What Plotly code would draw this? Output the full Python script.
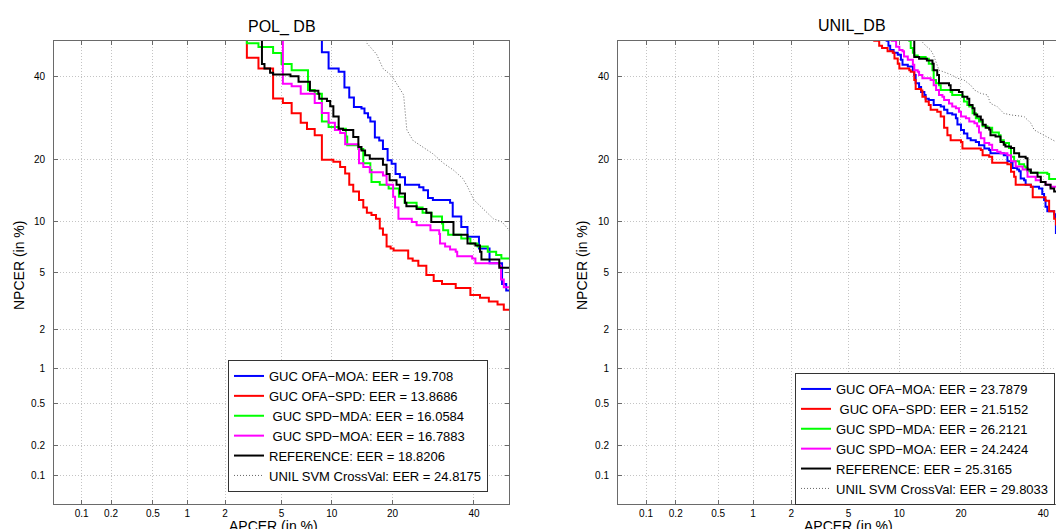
import plotly.graph_objects as go
from statistics import NormalDist

# ---------------- data (values in %) ----------------
TICK_VALUES = [0.1, 0.2, 0.5, 1, 2, 5, 10, 20, 40]
TICK_LABELS = ["0.1", "0.2", "0.5", "1", "2", "5", "10", "20", "40"]

# POL_DB
pol_ofa_moa_x = [8.8, 8.8, 9.6, 10.9, 11.7, 12.4, 13.1, 14.3, 14.8, 15.4, 15.8, 16.6, 17.4, 18.1, 19.0, 19.8, 20.6, 21.5, 22.6, 25.8, 26.8, 27.9, 29.1, 33.5, 34.2, 36.5, 38.2, 41.4, 44.4, 48.0, 49.2, 50.5]
pol_ofa_moa_y = [55, 46.7, 42.2, 41.3, 37.0, 34.3, 31.9, 31.5, 30.3, 29.3, 28.3, 24.6, 23.9, 22.1, 19.8, 19.1, 17.2, 16.6, 15.3, 14.9, 14.4, 13.2, 12.9, 12.5, 10.6, 9.3, 8.2, 7.0, 5.7, 4.2, 3.8, 3.8]

pol_ofa_spd_x = [2.9, 2.9, 3.5, 4.4, 5.1, 5.8, 6.6, 7.2, 8.0, 8.8, 10.2, 11.1, 11.8, 12.4, 13.0, 13.9, 14.6, 15.2, 16.0, 16.8, 17.5, 18.1, 18.8, 19.6, 20.2, 23.3, 24.3, 25.6, 27.5, 29.3, 31.4, 35.0, 39.0, 41.7, 44.2, 46.7, 48.5, 50.5]
pol_ofa_spd_y = [55, 45.2, 42.2, 34.1, 32.9, 30.3, 28.0, 26.5, 25.1, 19.9, 19.5, 18.5, 17.3, 15.3, 14.2, 12.9, 11.8, 11.1, 10.8, 10.3, 9.1, 8.4, 7.2, 7.0, 6.8, 6.1, 5.9, 5.5, 4.8, 4.4, 4.2, 3.95, 3.55, 3.4, 3.2, 3.05, 2.8, 2.8]

pol_spd_mda_x = [2.9, 2.9, 3.5, 4.4, 5.0, 5.8, 7.3, 8.0, 8.8, 9.6, 10.9, 11.9, 12.1, 13.8, 14.6, 15.8, 16.0, 17.5, 19.2, 21.3, 22.5, 25.2, 26.6, 28.8, 31.4, 31.7, 33.0, 36.5, 39.0, 41.0, 43.9, 46.3, 47.8, 50.5]
pol_spd_mda_y = [55, 49.3, 48.2, 46.5, 43.4, 41.7, 36.3, 35.3, 28.3, 27.0, 26.6, 24.8, 22.9, 22.1, 19.2, 17.9, 15.8, 15.3, 14.7, 13.4, 12.5, 11.8, 11.1, 10.6, 9.7, 8.9, 8.4, 8.0, 7.5, 7.2, 6.7, 6.4, 6.1, 6.1]

pol_spd_moa_x = [5.1, 5.1, 5.8, 6.6, 8.0, 8.8, 9.6, 10.4, 11.1, 11.8, 13.8, 13.9, 14.6, 15.7, 18.1, 18.8, 20.1, 20.5, 21.2, 24.1, 25.2, 28.5, 30.7, 30.9, 32.2, 33.5, 35.0, 35.4, 39.5, 40.4, 47.2, 47.7, 48.5, 50.5]
pol_spd_moa_y = [55, 38.0, 37.3, 35.3, 32.9, 30.4, 28.0, 26.3, 25.6, 23.1, 22.5, 19.2, 18.5, 17.5, 16.9, 15.3, 13.4, 11.8, 10.3, 9.9, 9.5, 8.9, 8.5, 7.5, 7.2, 6.9, 6.7, 6.3, 6.1, 5.7, 5.5, 4.5, 4.0, 3.95]

pol_ref_x = [3.7, 3.7, 3.85, 4.2, 4.4, 5.7, 6.4, 7.5, 8.4, 8.5, 9.4, 9.8, 10.2, 10.9, 11.5, 13.0, 13.8, 14.3, 14.9, 15.7, 18.1, 18.8, 19.4, 20.8, 21.5, 22.6, 22.9, 25.2, 27.5, 28.7, 34.4, 38.2, 40.4, 41.7, 42.1, 47.2, 50.5]
pol_ref_y = [55, 43.4, 42.2, 41.0, 40.5, 40.0, 38.5, 36.1, 35.3, 34.0, 33.4, 32.1, 29.5, 26.6, 26.3, 24.7, 22.5, 21.8, 20.8, 20.1, 18.9, 17.2, 16.1, 15.3, 13.9, 12.5, 12.0, 11.6, 11.1, 9.9, 8.4, 7.5, 7.3, 6.7, 6.0, 5.35, 5.35]

pol_unil_x = [15.0, 15.2, 16.9, 18.1, 19.8, 21.2, 22.3, 22.6, 23.0, 24.4, 27.2, 29.1, 31.8, 34.4, 36.9, 38.2, 40.0, 42.6, 45.5, 48.0, 50.5]
pol_unil_y = [51, 49.3, 46.2, 42.2, 40.2, 37.2, 35.0, 31.1, 26.3, 23.9, 22.1, 21.1, 19.2, 17.9, 16.4, 15.0, 12.9, 11.6, 10.3, 9.9, 8.7]

# UNIL_DB
unil_ofa_moa_x = [8.5, 8.5, 8.7, 8.9, 9.3, 9.8, 10.2, 10.4, 11.1, 11.8, 12.0, 12.2, 12.7, 13.0, 13.5, 13.7, 14.2, 15.0, 16.2, 16.8, 17.4, 18.3, 19.0, 19.3, 20.0, 20.6, 21.3, 22.0, 23.1, 23.8, 25.0, 26.1, 26.4, 29.6, 30.5, 31.4, 31.8, 33.0, 33.5, 33.9, 34.8, 35.2, 36.6, 38.8, 39.7, 40.2, 40.6, 41.1, 43.0, 43.5, 50.5]
unil_ofa_moa_y = [55, 50, 48.6, 47.4, 46.6, 46.0, 44.6, 43.2, 42.7, 41.7, 40.4, 38.1, 37.1, 35.8, 35.0, 34.0, 33.7, 32.4, 32.0, 31.2, 30.3, 30.0, 29.1, 27.6, 26.3, 25.5, 24.4, 24.0, 23.6, 22.9, 22.2, 21.9, 21.2, 20.8, 19.6, 19.3, 18.3, 18.0, 17.7, 16.4, 16.1, 15.3, 15.0, 14.7, 13.8, 12.9, 11.9, 11.3, 10.9, 8.6, 8.6]

unil_ofa_spd_x = [7.2, 7.2, 7.7, 8.0, 8.6, 9.2, 9.4, 9.8, 10.0, 11.3, 11.5, 12.0, 12.2, 13.0, 13.2, 13.7, 14.2, 14.5, 15.6, 16.2, 16.8, 16.8, 17.4, 18.0, 20.0, 20.3, 24.2, 24.6, 26.1, 26.8, 30.5, 31.4, 32.2, 32.6, 36.6, 37.1, 40.6, 41.6, 43.0, 43.5, 50.5]
unil_ofa_spd_y = [55, 50, 48.6, 47.9, 47.0, 46.6, 45.0, 43.5, 42.2, 41.7, 41.3, 39.0, 36.6, 36.2, 34.5, 33.3, 32.4, 31.2, 30.7, 29.5, 28.3, 26.8, 25.1, 24.0, 23.6, 22.2, 21.9, 20.8, 20.5, 19.3, 19.0, 17.6, 16.7, 15.3, 15.0, 13.3, 12.8, 11.3, 10.3, 9.6, 9.6]

unil_spd_mda_x = [11.3, 11.3, 11.5, 11.8, 12.0, 12.5, 13.7, 14.2, 14.8, 15.0, 15.4, 15.9, 16.2, 18.0, 18.3, 20.3, 20.6, 21.3, 21.7, 22.4, 23.1, 23.8, 24.6, 25.7, 26.8, 28.4, 28.8, 29.6, 30.9, 31.4, 32.2, 33.5, 34.8, 35.2, 35.7, 36.6, 41.1, 41.6, 50.5]
unil_spd_mda_y = [55, 50, 47.9, 46.6, 45.8, 45.4, 44.9, 43.5, 41.7, 39.0, 38.1, 37.6, 36.3, 35.8, 35.0, 34.6, 33.3, 32.4, 32.0, 30.3, 29.1, 28.3, 27.2, 26.8, 25.7, 25.1, 24.0, 23.4, 22.3, 20.5, 19.6, 19.0, 18.6, 18.3, 17.7, 17.4, 17.2, 16.3, 16.3]

unil_spd_moa_x = [9.1, 9.1, 9.6, 10.0, 10.4, 10.6, 11.1, 11.8, 12.0, 12.5, 12.7, 13.2, 14.5, 15.0, 15.4, 15.9, 16.5, 16.8, 17.7, 18.3, 19.0, 19.6, 20.0, 21.0, 21.7, 22.8, 23.4, 23.8, 24.2, 25.0, 26.1, 26.8, 28.0, 28.8, 30.5, 31.4, 32.6, 34.4, 35.7, 37.9, 39.3, 40.6, 42.0, 44.1, 45.1, 50.5]
unil_spd_moa_y = [55, 50, 48.3, 47.4, 47.0, 45.5, 44.6, 43.2, 41.7, 41.3, 40.4, 39.5, 39.0, 37.6, 36.3, 35.0, 34.5, 33.7, 32.8, 32.0, 31.6, 30.7, 29.5, 29.1, 28.3, 27.9, 27.2, 25.7, 24.4, 23.4, 23.0, 21.9, 21.5, 21.2, 20.8, 19.6, 18.6, 18.0, 16.7, 16.1, 15.8, 15.3, 15.0, 14.7, 14.4, 14.4]

unil_ref_x = [12.0, 12.0, 12.7, 13.9, 14.8, 15.0, 15.6, 15.9, 17.7, 18.0, 19.6, 20.3, 21.3, 21.7, 22.4, 22.8, 23.4, 24.2, 24.6, 25.3, 26.1, 26.4, 27.6, 28.8, 29.6, 30.0, 31.4, 32.2, 33.5, 35.2, 35.7, 36.6, 38.4, 39.3, 40.6, 42.0, 43.0, 44.1, 45.3, 45.5, 50.5]
unil_ref_y = [55, 45.4, 44.9, 44.4, 43.5, 41.7, 40.4, 38.1, 37.6, 36.3, 35.8, 34.5, 34.0, 32.4, 31.6, 30.0, 29.5, 28.7, 27.5, 26.8, 26.4, 25.1, 24.8, 23.6, 23.0, 22.6, 22.3, 21.2, 20.5, 20.2, 18.0, 17.4, 16.7, 15.8, 15.3, 14.7, 14.2, 13.8, 12.9, 11.7, 11.7]

unil_unil_x = [12.8, 13.0, 13.7, 14.5, 15.0, 15.6, 15.9, 16.8, 18.0, 19.3, 20.6, 22.0, 22.8, 24.2, 25.7, 26.4, 28.0, 29.6, 31.4, 34.8, 36.6, 37.5, 40.2, 42.0, 44.1, 45.8, 50.5]
unil_unil_y = [51, 50, 48.6, 47.4, 45.8, 43.2, 41.7, 41.2, 40.5, 39.5, 39.0, 37.6, 36.3, 35.4, 35.0, 32.8, 32.0, 30.3, 29.9, 29.5, 27.9, 26.3, 25.1, 24.4, 23.4, 22.5, 20.5]

pol_names = ["GUC OFA\u2212MOA: EER = 19.708", "GUC OFA\u2212SPD: EER = 13.8686",
             "\u00a0GUC SPD\u2212MDA: EER = 16.0584", "\u00a0GUC SPD\u2212MOA: EER = 16.7883",
             "REFERENCE: EER = 18.8206", "UNIL SVM CrossVal: EER = 24.8175"]
unil_names = ["GUC OFA\u2212MOA: EER = 23.7879", "\u00a0GUC OFA\u2212SPD: EER = 21.5152",
              "GUC SPD\u2212MDA: EER = 26.2121", "GUC SPD\u2212MOA: EER = 24.2424",
              "REFERENCE: EER = 25.3165", "UNIL SVM CrossVal: EER = 29.8033"]

colors = ["#0000ff", "#ff0000", "#00ff00", "#ff00ff", "#000000", "#666666"]

# ---------------- scale (normal deviate / probit) ----------------
_nd = NormalDist()


def probit(values):
    return [_nd.inv_cdf(min(max(v, 1e-4), 99.9999) / 100.0) for v in values]


FONT = "Liberation Sans, Arial, Helvetica, sans-serif"
fig = go.Figure()

pol_series = [(pol_ofa_moa_x, pol_ofa_moa_y), (pol_ofa_spd_x, pol_ofa_spd_y),
              (pol_spd_mda_x, pol_spd_mda_y), (pol_spd_moa_x, pol_spd_moa_y),
              (pol_ref_x, pol_ref_y), (pol_unil_x, pol_unil_y)]
unil_series = [(unil_ofa_moa_x, unil_ofa_moa_y), (unil_ofa_spd_x, unil_ofa_spd_y),
               (unil_spd_mda_x, unil_spd_mda_y), (unil_spd_moa_x, unil_spd_moa_y),
               (unil_ref_x, unil_ref_y), (unil_unil_x, unil_unil_y)]


def line_style(col):
    dotted = col == "#666666"
    return dict(color=col, width=1 if dotted else 2, dash="1px,2px" if dotted else "solid",
                shape="linear" if dotted else "hv")


for (sx, sy), name, col in zip(pol_series, pol_names, colors):
    fig.add_trace(go.Scatter(x=probit(sx), y=probit(sy), mode="lines", name=name,
                             line=line_style(col), xaxis="x", yaxis="y", legend="legend"))

for (sx, sy), name, col in zip(unil_series, unil_names, colors):
    fig.add_trace(go.Scatter(x=probit(sx), y=probit(sy), mode="lines", name=name,
                             line=line_style(col), xaxis="x2", yaxis="y2", legend="legend2"))

# page body has an 8px margin: the figure is laid out in page pixels minus that offset
OFF = 8
W, H = 1064 - OFF, 529 - OFF


def px(x):
    return (x - OFF) / W


def py(y):
    return 1 - (y - OFF) / H


tickpos = probit(TICK_VALUES)
lo = probit([0.05])[0]

axis_common = dict(
    tickmode="array", tickvals=tickpos, ticktext=TICK_LABELS,
    ticks="inside", ticklen=4, tickcolor="#6a6a6a",
    showline=True, linecolor="#6a6a6a", linewidth=1,
    showgrid=True, gridcolor="#c4c4c4", griddash="1px,2px", gridwidth=1,
    zeroline=False, automargin=False,
    tickfont=dict(family=FONT, size=10, color="#000000"),
)

y_dom = [py(504), py(40.7)]
fig.update_layout(
    width=W, height=H, autosize=False,
    template="none",
    paper_bgcolor="white", plot_bgcolor="white",
    margin=dict(l=0, r=0, t=0, b=0, pad=0),
    font=dict(family=FONT, size=13, color="#000000"),
    xaxis=dict(domain=[px(54), px(509)], range=[lo, 0], anchor="y", mirror="ticks", **axis_common),
    yaxis=dict(domain=y_dom, range=[lo, 0], anchor="x", mirror="ticks", ticklabelstandoff=6, **axis_common),
    xaxis2=dict(domain=[px(618), 1.0], range=[lo, lo + (1064 - 618) / 140.05], anchor="y2", mirror="ticks", **axis_common),
    yaxis2=dict(domain=y_dom, range=[lo, 0], anchor="x2", mirror=False, ticklabelstandoff=6, **axis_common),
    legend=dict(x=px(228), y=py(360), xanchor="left", yanchor="top",
                bgcolor="white", bordercolor="#333333", borderwidth=1,
                font=dict(family=FONT, size=13), itemwidth=30, tracegroupgap=0),
    legend2=dict(x=px(795), y=py(373), xanchor="left", yanchor="top",
                 bgcolor="white", bordercolor="#333333", borderwidth=1,
                 font=dict(family=FONT, size=13), itemwidth=30, tracegroupgap=0),
    showlegend=True,
)

annots = [
    dict(text="POL_ DB", x=px(281.5), y=py(27), size=16, angle=0),
    dict(text="UNIL_DB", x=px(852), y=py(26), size=16, angle=0),
    dict(text="APCER (in %)", x=px(273), y=py(525.5), size=14, angle=0),
    dict(text="APCER (in %)", x=px(848), y=py(525.5), size=14, angle=0),
    dict(text="NPCER (in %)", x=px(19), y=py(266), size=14, angle=-90),
    dict(text="NPCER (in %)", x=px(582), y=py(266), size=14, angle=-90),
]
for a in annots:
    fig.add_annotation(xref="paper", yref="paper", showarrow=False,
                       xanchor="center", yanchor="middle", textangle=a["angle"],
                       text=a["text"], x=a["x"], y=a["y"],
                       font=dict(family=FONT, size=a["size"], color="#000000"))

fig.write_html("out.html")
